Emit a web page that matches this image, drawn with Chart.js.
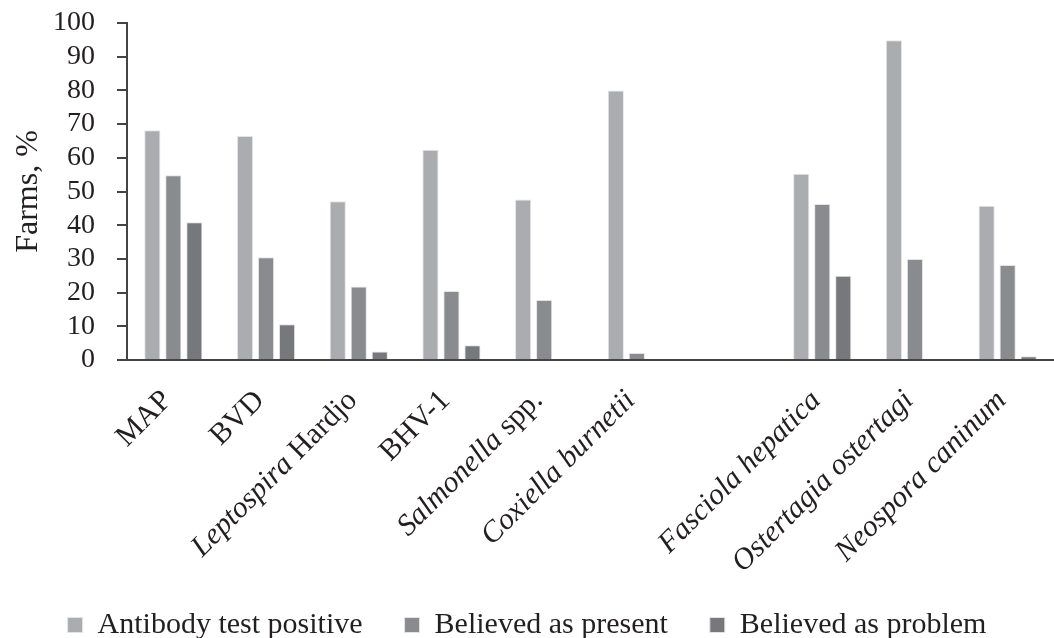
<!DOCTYPE html>
<html>
<head>
<meta charset="utf-8">
<title>Farms, %</title>
<script src="https://cdn.jsdelivr.net/npm/chart.js@4.4.1/dist/chart.umd.min.js"></script>
<style>
  html, body { margin: 0; padding: 0; background: #fff; }
  #wrap { width: 1054px; height: 638px; position: relative; }
</style>
</head>
<body>
<div id="wrap"><canvas id="farms-chart"></canvas></div>
<script>
// pathogens on the x axis (blank slot splits the groups)
const categories = ['MAP', 'BVD', 'Leptospira Hardjo', 'BHV-1', 'Salmonella spp.',
  'Coxiella burnetii', '', 'Fasciola hepatica', 'Ostertagia ostertagi', 'Neospora caninum'];
// leading part of each name that is set in italics
const italicParts = ['', '', 'Leptospira', '', 'Salmonella',
  'Coxiella burnetii', '', 'Fasciola hepatica', 'Ostertagia ostertagi', 'Neospora caninum'];

const antibodyPositive = [68.2, 66.5, 47.1, 62.4, 47.6, 80.0, null, 55.3, 94.9, 45.8];
const believedPresent  = [54.8, 30.5, 21.8, 20.5, 17.8, 2.1, null, 46.3, 30.0, 28.2];
const believedProblem  = [40.9, 10.6, 2.5, 4.4, 0, 0, null, 25.0, 0, 1.1];

const seriesNames = ['Antibody test positive', 'Believed as present', 'Believed as problem'];
const yTicks = [0, 10, 20, 30, 40, 50, 60, 70, 80, 90, 100];

const serif = '"Liberation Serif", "Times New Roman", serif';
const ink = '#231f20';
const axisColour = '#444446';

// draws the rotated x labels so that genus names can be italic
const categoryLabels = {
  id: 'categoryLabels',
  afterDraw(chart) {
    const { ctx, scales: { x } } = chart;
    ctx.save();
    ctx.fillStyle = ink;
    ctx.textBaseline = 'middle';
    ctx.textAlign = 'right';
    categories.forEach((name, i) => {
      if (!name) return;
      const lead = italicParts[i];
      const rest = name.slice(lead.length);
      ctx.save();
      ctx.translate(x.getPixelForValue(i) - 6, x.top + 36);
      ctx.rotate(-Math.PI / 4);
      ctx.font = '30px ' + serif;
      ctx.fillText(rest, 0, 0);
      const restWidth = rest ? ctx.measureText(rest).width : 0;
      ctx.font = 'italic 30px ' + serif;
      ctx.fillText(lead, -restWidth, 0);
      ctx.restore();
    });
    ctx.restore();
  }
};

const makeChart = () => {
  const ctx = document.getElementById('farms-chart').getContext('2d');
  new Chart(ctx, {
    type: 'bar',
    data: {
      labels: categories,
      datasets: [
        { label: seriesNames[0], data: antibodyPositive, backgroundColor: '#abacaf' },
        { label: seriesNames[1], data: believedPresent, backgroundColor: '#8a8b8e' },
        { label: seriesNames[2], data: believedProblem, backgroundColor: '#77787b' }
      ].map(d => Object.assign(d, {
        borderColor: '#e4e4e6',
        borderWidth: 1,
        categoryPercentage: 0.68,
        barPercentage: 0.77
      }))
    },
    options: {
      responsive: true,
      maintainAspectRatio: false,
      animation: false,
      layout: { padding: { top: 23, right: 0, bottom: -12, left: 0 } },
      plugins: {
        tooltip: { enabled: false },
        legend: {
          position: 'bottom',
          labels: {
            boxWidth: 15,
            boxHeight: 15,
            padding: 42,
            color: ink,
            font: { family: serif, size: 30 }
          }
        }
      },
      scales: {
        x: {
          grid: { display: false },
          border: { color: axisColour, width: 2 },
          ticks: { display: false },
          afterFit: (scale) => { scale.height = 208; }
        },
        y: {
          min: 0,
          max: 100,
          afterBuildTicks: (scale) => { scale.ticks = yTicks.map(v => ({ value: v })); },
          grid: { drawOnChartArea: false, tickLength: 10, color: axisColour, lineWidth: 2 },
          border: { color: axisColour, width: 2 },
          ticks: { autoSkip: false, padding: 22, color: ink, font: { family: serif, size: 28 } },
          title: {
            display: true,
            text: 'Farms, %',
            color: ink,
            font: { family: serif, size: 32 },
            padding: { top: 9, bottom: 0 }
          },
          afterFit: (scale) => {
            scale.width = 127;
            scale.paddingTop = 0;
            scale.paddingBottom = 0;
          }
        }
      }
    },
    plugins: [categoryLabels]
  });
};

Promise.all([
  document.fonts.load('30px "Liberation Serif"'),
  document.fonts.load('italic 30px "Liberation Serif"')
]).then(makeChart, makeChart);
</script>
</body>
</html>
